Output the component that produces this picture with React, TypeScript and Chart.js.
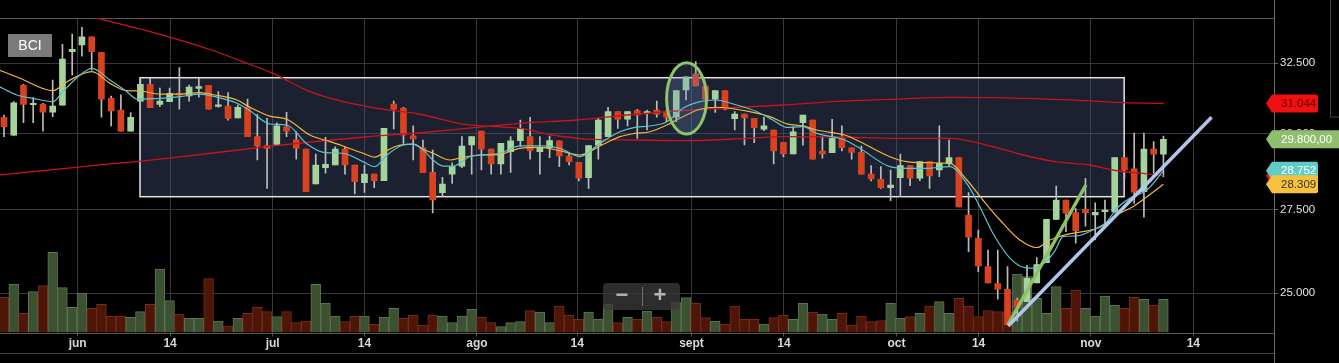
import React, { useEffect, useRef } from "react";
import { Chart, registerables } from "chart.js";

Chart.register(...registerables);

const FONT = "'Liberation Sans', Arial, sans-serif";

// Daily candles (BCI), oldest first
const opens = [
  30560, 29940, 31690, 31000, 31015, 30740, 30980, 32930, 33190, 33500,
  32910, 31225, 30810, 30080, 31130, 31730, 31015, 31110, 31410, 31310,
  31580, 31690, 30940, 30955, 30540, 30910, 29890, 29585, 29630, 30230,
  29780, 29470, 28320, 28850, 28940, 29470, 28940, 28360, 28640, 28425,
  31025, 30875, 29920, 29510, 28700, 28040, 28640, 28905, 29608, 30080,
  29470, 28973, 29385, 29755, 29890, 29385, 29515, 29745, 29240, 29030,
  28525, 29608, 29890, 30755, 30490, 30790, 30700, 30814, 30755, 30560,
  31525, 32110, 31670, 31200, 31500, 30510, 30670, 30520, 30150, 30118,
  29700, 29305, 30370, 30464, 29405, 29350, 29835, 29515, 29360, 28640,
  28470, 28200, 28525, 28920, 28505, 29050, 28775, 28995, 29185, 27335,
  26620, 25770, 25280, 25115, 24809, 24760, 25300, 25885, 27200, 27807,
  27410, 27510, 27335, 27440, 27435, 29190, 28810, 28070, 29470, 29300,
];
const highs = [
  30640, 31110, 31730, 31250, 31050, 31880, 33210, 33605, 33860, 33500,
  32910, 31310, 31350, 30720, 31920, 31950, 31590, 31590, 32340, 31700,
  31950, 31690, 31465, 31430, 30990, 31200, 30660, 30520, 30370, 30730,
  30060, 29470, 29305, 29870, 29550, 29550, 28940, 28940, 28640, 30175,
  31130, 30910, 30260, 29777, 29440, 28535, 29015, 29890, 29890, 30080,
  29470, 29665, 29890, 30464, 30560, 29890, 29910, 29745, 29350, 29030,
  29585, 30520, 30910, 30755, 30755, 30840, 30814, 31130, 30814, 31500,
  32005, 32560, 31670, 31500, 31500, 30755, 30670, 30520, 30560, 30118,
  29700, 30230, 30638, 30464, 29890, 30490, 30260, 29515, 29575, 28920,
  28885, 28775, 29305, 28920, 29050, 29050, 30260, 29777, 29185, 28040,
  26871, 26265, 26265, 25770, 24866, 25810, 26040, 27200, 28255, 27807,
  27540, 28500, 27720, 27807, 29190, 29190, 30010, 30010, 29720, 29910,
];
const lows = [
  29890, 29930, 30370, 30370, 30080, 30580, 30980, 32070, 32770, 32250,
  30560, 30260, 30080, 30080, 31130, 30900, 30930, 31110, 30840, 31130,
  31265, 30840, 30910, 30460, 30540, 29890, 29105, 28180, 29630, 29890,
  29130, 28070, 28320, 28670, 28940, 28640, 28000, 28050, 28200, 28425,
  30160, 29665, 29105, 28690, 27400, 27910, 28340, 28850, 28640, 28775,
  28640, 28640, 28700, 29550, 29130, 28640, 29180, 28885, 28940, 28415,
  28180, 29130, 29890, 30175, 30260, 29835, 30118, 30560, 30405, 30405,
  31167, 31670, 31190, 30730, 30814, 30118, 29608, 29685, 30095, 28973,
  29215, 29305, 29598, 29130, 29165, 29350, 29405, 29130, 28640, 28415,
  28180, 27785, 27910, 28265, 28425, 28180, 28560, 28905, 27590, 26215,
  25625, 25300, 24830, 24120, 24220, 24760, 25300, 25885, 27200, 26820,
  26470, 26990, 26566, 26970, 27400, 28500, 27700, 27265, 28670, 28560,
];
const closes = [
  30230, 31070, 31010, 31020, 30740, 30950, 32660, 33020, 33500, 32930,
  31200, 30780, 30080, 30560, 31730, 30900, 31130, 31410, 31350, 31630,
  31650, 30840, 30960, 30520, 30910, 29890, 29575, 29495, 30260, 30080,
  29500, 28070, 28940, 28960, 29470, 28940, 28395, 28640, 28425, 30175,
  30840, 29950, 29810, 28690, 27810, 28320, 28885, 29575, 29890, 29470,
  28973, 29665, 29745, 30175, 29415, 29515, 29755, 29240, 29050, 28505,
  29585, 30464, 30755, 30490, 30755, 30640, 30755, 30670, 30560, 31500,
  32005, 31670, 31190, 31500, 30840, 30670, 30540, 30200, 30260, 29405,
  29305, 30060, 30638, 29130, 29305, 29835, 29515, 29360, 28640, 28480,
  28200, 28287, 28920, 28505, 29050, 28580, 28995, 29185, 27590, 26650,
  25790, 25300, 25115, 24120, 24610, 25430, 25830, 27200, 27807, 27390,
  26850, 27410, 27420, 27460, 29190, 28775, 28060, 29470, 29300, 29800,
];
// Traded volume (thousands)
const volumes = [
  352, 482, 192, 408, 468, 802, 448, 252, 392, 242,
  282, 165, 165, 152, 208, 282, 635, 318, 185, 142,
  142, 538, 115, 65, 142, 192, 252, 208, 158, 208,
  98, 115, 482, 292, 165, 108, 165, 165, 85, 152,
  242, 142, 175, 75, 175, 165, 98, 165, 232, 152,
  98, 58, 98, 108, 218, 205, 98, 265, 175, 132,
  205, 132, 282, 98, 152, 132, 215, 152, 108, 298,
  348, 292, 148, 115, 85, 265, 132, 132, 85, 148,
  175, 132, 292, 205, 185, 132, 192, 75, 165, 108,
  118, 292, 142, 158, 192, 265, 308, 192, 342, 265,
  158, 218, 208, 205, 585, 558, 342, 192, 458, 242,
  425, 242, 165, 365, 275, 242, 352, 332, 275, 332,
];

// Date ticks (position in trading-day slots) and their labels
const xTickPos = [7.56, 17.05, 27.58, 37.0, 48.54, 58.84, 70.56, 80.05, 91.6, 100.03, 111.55, 122.07];
const xTickLabels = ["jun", "14", "jul", "14", "ago", "14", "sept", "14", "oct", "14", "nov", "14"];
const yTickValues = [25000, 27500, 30000, 32500];

// Moving averages read as [slot, price]
const maLong = [
  [-0.5, 28611], [7.6, 28873], [17.0, 29170], [27.6, 29575], [37.0, 29880], [42.7, 30025],
  [45.8, 30118], [53.0, 30350], [58.8, 30464], [64.8, 30665], [70.6, 30814], [79.9, 30990],
  [86.0, 31130], [91.6, 31200], [97.1, 31260], [102.9, 31245], [107.9, 31190], [111.5, 31140],
  [114.2, 31080], [119, 31044],
];
const maMid = [
  [-0.5, 35210], [9.54, 34220], [17.0, 33490], [21.3, 32997], [24.5, 32560], [27.6, 32130],
  [31.4, 31465], [34.8, 31110], [38.3, 30875], [42.7, 30665], [47.1, 30325], [53.0, 30175],
  [56.3, 29947], [59.8, 29810], [64.8, 29777], [70.6, 29755], [76.3, 29835], [79.9, 29890],
  [86.0, 29880], [91.6, 29835], [97.1, 29835], [101.5, 29550], [104.6, 29272], [107.9, 29050],
  [111.5, 28940], [113.8, 28775], [117.6, 28640], [119, 28590],
];
const maYellow = [
  [-0.5, 32253], [1.64, 31950], [5.03, 31500], [6.47, 31825], [9.03, 32190], [10.88, 31765],
  [12.62, 31500], [13.96, 31490], [16.01, 31380], [18.06, 31380], [20.11, 31430], [21.65, 31346],
  [23.91, 31167], [25.25, 30910], [27.3, 30600], [29.04, 30490], [31.4, 29947], [33.46, 29720],
  [34.79, 29575], [36.84, 29330], [38.07, 29200], [39.1, 29385], [40.33, 29575], [41.97, 29640],
  [43.2, 29440], [44.03, 29330], [45.77, 29105], [47.1, 29195], [48.85, 29272], [50.9, 29295],
  [52.96, 29495], [55.0, 29530], [57.06, 29415], [59.11, 29272], [61.16, 29575], [63.22, 29890],
  [64.76, 30000], [66.3, 30060], [68.04, 30291], [69.68, 30580], [71.43, 30840], [73.17, 30910],
  [74.5, 30875], [76.56, 30755], [78.61, 30580], [80.36, 30330], [82.0, 30260], [83.43, 30118],
  [86.3, 29947], [87.85, 29720], [90.93, 29215], [92.67, 29050], [94.72, 29015], [97.08, 28995],
  [98.83, 28449], [100.47, 27807], [102.22, 27180], [104.27, 26566], [106.01, 26340], [107.35, 26566],
  [109.09, 26740], [110.73, 26820], [112.48, 26955], [114.22, 27335], [115.86, 27595], [117.3, 27910],
  [119, 28309],
];
const maBlue = [
  [-0.5, 31650], [1.33, 31346], [2.98, 31228], [5.03, 31110], [5.95, 31430], [7.8, 32069],
  [9.03, 32315], [10.88, 31887], [12.62, 31465], [13.65, 31200], [16.01, 31228], [18.06, 31285],
  [20.11, 31380], [21.65, 31285], [23.91, 31050], [25.25, 30790], [27.3, 30325], [29.04, 30291],
  [31.1, 29640], [32.94, 29350], [34.79, 29330], [36.84, 29050], [38.07, 28885], [39.31, 29272],
  [40.95, 29608], [41.97, 29640], [43.2, 29385], [44.03, 29105], [45.05, 28905], [46.08, 28905],
  [47.82, 29215], [50.9, 29330], [52.96, 29575], [55.0, 29575], [57.06, 29495], [59.11, 29215],
  [61.16, 29665], [63.22, 30060], [64.76, 30210], [66.3, 30256], [68.04, 30405], [69.68, 30875],
  [71.43, 31110], [72.97, 31167], [75.22, 30990], [77.28, 30755], [78.92, 30464], [80.36, 30210],
  [82.0, 30232], [83.43, 30004], [86.3, 29777], [87.85, 29495], [90.93, 28885], [92.67, 28830],
  [94.72, 28830], [97.08, 28885], [98.83, 28330], [100.16, 27595], [101.5, 26770], [103.24, 26020],
  [104.27, 25790], [105.6, 25725], [107.0, 25930], [107.9, 26260], [108.68, 26670], [110.12, 26690],
  [111.76, 26871], [113.2, 27130], [114.22, 27545], [115.56, 27860], [117.3, 28126], [119, 28752],
];

// Drawn annotations (slot, price)
const rangeBoxSlots = [13.96, 114.97];
const rangeBoxPrices = [31970, 27912];
const ellipseSlots = [68.01, 72.11];
const ellipsePrices = [32520, 29980];
const trendGreen = [[103.04, 24112], [111.04, 28287]];
const trendBlue = [[103.07, 24085], [123.94, 30560]];

const fmtThousands = (v: number) =>
  Math.round(v).toString().replace(/\B(?=(\d{3})+(?!\d))/g, ".");

export default function App() {
  const ref = useRef<HTMLCanvasElement>(null);

  useEffect(() => {
    document.body.style.margin = "0";
    document.body.style.background = "#000";
    const canvas = ref.current as HTMLCanvasElement;

    const up = closes.map((c, i) => c >= opens[i]);
    const volUp = closes.map((c, i) => (i === 0 ? c >= opens[0] : c >= closes[i - 1]));
    const pts = (arr: number[][]) => arr.map(([x, y]) => ({ x, y }));

    const GREEN = "#a4d39c";
    const RED = "#d9411f";

    const drawTag = (ctx: any, right: number, yc: number, fill: string, txtColor: string, text: string, bodyRight: number) => {
      const h = 18;
      const tip = right - 8;
      const body = right - 2;
      ctx.save();
      ctx.beginPath();
      ctx.moveTo(tip, yc);
      ctx.lineTo(body, yc - h / 2);
      ctx.lineTo(bodyRight - 2, yc - h / 2);
      ctx.quadraticCurveTo(bodyRight, yc - h / 2, bodyRight, yc - h / 2 + 2);
      ctx.lineTo(bodyRight, yc + h / 2 - 2);
      ctx.quadraticCurveTo(bodyRight, yc + h / 2, bodyRight - 2, yc + h / 2);
      ctx.lineTo(body, yc + h / 2);
      ctx.closePath();
      ctx.fillStyle = fill;
      ctx.fill();
      if (text) {
        ctx.fillStyle = txtColor;
        ctx.font = `11.5px ${FONT}`;
        ctx.textAlign = "left";
        ctx.textBaseline = "middle";
        ctx.fillText(text, right + 7, yc + 0.5);
      }
      ctx.restore();
    };

    const overlay = {
      id: "overlay",
      beforeDraw(chart: any) {
        const ctx = chart.ctx;
        ctx.save();
        ctx.fillStyle = "#000";
        ctx.fillRect(0, 0, chart.width, chart.height);
        ctx.restore();
      },
      beforeDatasetsDraw(chart: any) {
        const { ctx, chartArea, scales } = chart;
        const x = scales.x;
        const y = scales.y;
        ctx.save();
        // frame lines
        ctx.strokeStyle = "#585858";
        ctx.lineWidth = 1;
        ctx.beginPath();
        ctx.moveTo(0, Math.round(chartArea.top) + 0.5);
        ctx.lineTo(chartArea.right, Math.round(chartArea.top) + 0.5);
        ctx.moveTo(0, Math.round(chartArea.bottom) + 0.5);
        ctx.lineTo(chartArea.right, Math.round(chartArea.bottom) + 0.5);
        ctx.stroke();
        // consolidation range box
        const x0 = x.getPixelForValue(rangeBoxSlots[0]);
        const x1 = x.getPixelForValue(rangeBoxSlots[1]);
        const y0 = y.getPixelForValue(rangeBoxPrices[0]);
        const y1 = y.getPixelForValue(rangeBoxPrices[1]);
        ctx.fillStyle = "rgba(75,92,133,0.36)";
        ctx.fillRect(x0, y0, x1 - x0, y1 - y0);
        ctx.strokeStyle = "#e4e4e4";
        ctx.lineWidth = 1.5;
        ctx.strokeRect(x0, y0, x1 - x0, y1 - y0);
        ctx.restore();
      },
      afterDatasetsDraw(chart: any) {
        const { ctx, scales } = chart;
        const x = scales.x;
        const y = scales.y;
        const ex0 = x.getPixelForValue(ellipseSlots[0]);
        const ex1 = x.getPixelForValue(ellipseSlots[1]);
        const ey0 = y.getPixelForValue(ellipsePrices[0]);
        const ey1 = y.getPixelForValue(ellipsePrices[1]);
        ctx.save();
        ctx.beginPath();
        ctx.ellipse((ex0 + ex1) / 2, (ey0 + ey1) / 2, (ex1 - ex0) / 2, (ey1 - ey0) / 2, 0, 0, Math.PI * 2);
        ctx.fillStyle = "rgba(110,140,200,0.25)";
        ctx.fill();
        ctx.strokeStyle = "#8fc46d";
        ctx.lineWidth = 3;
        ctx.stroke();
        ctx.restore();
      },
      afterDraw(chart: any) {
        const { ctx, chartArea, scales } = chart;
        const y = scales.y;
        const right = chartArea.right;
        ctx.save();
        // right border and lower panel separator
        ctx.strokeStyle = "#6a6a6a";
        ctx.lineWidth = 1;
        ctx.beginPath();
        ctx.moveTo(Math.round(right) + 0.5, 0);
        ctx.lineTo(Math.round(right) + 0.5, chart.height);
        ctx.stroke();
        ctx.strokeStyle = "#444";
        ctx.beginPath();
        ctx.moveTo(0, 353.5);
        ctx.lineTo(right, 353.5);
        ctx.moveTo(1330.5, 0);
        ctx.lineTo(1330.5, 117);
        ctx.lineTo(chart.width, 117);
        ctx.stroke();

        // ticker badge
        ctx.fillStyle = "#7b7b7b";
        ctx.fillRect(8, 34, 44, 23);
        ctx.fillStyle = "#fff";
        ctx.font = `14px ${FONT}`;
        ctx.textAlign = "center";
        ctx.textBaseline = "middle";
        ctx.fillText("BCI", 30, 46);

        // zoom control
        ctx.beginPath();
        (ctx as any).roundRect(603, 283, 77, 27, 4);
        ctx.fillStyle = "rgba(58,58,58,0.78)";
        ctx.fill();
        ctx.strokeStyle = "#707070";
        ctx.beginPath();
        ctx.moveTo(642.5, 287);
        ctx.lineTo(642.5, 306);
        ctx.stroke();
        ctx.fillStyle = "#b4b4b4";
        ctx.font = `bold 22px ${FONT}`;
        ctx.fillText("\u2212", 622, 296);
        ctx.fillText("+", 660, 296);
        ctx.restore();

        // last value tags
        const lastMid = maMid[maMid.length - 1][1];
        const lastLong = maLong[maLong.length - 1][1];
        const lastYellow = maYellow[maYellow.length - 1][1];
        const lastBlue = maBlue[maBlue.length - 1][1];
        const lastClose = closes[closes.length - 1];
        drawTag(ctx, right, y.getPixelForValue(lastLong), "#f01010", "#5a0000", fmtThousands(lastLong), 1318);
        drawTag(ctx, right, y.getPixelForValue(lastMid), "#e01515", "#5a0000", "", 1318);
        drawTag(ctx, right, y.getPixelForValue(lastClose), "#8fbf6e", "#ffffff", fmtThousands(lastClose) + ",00", 1350);
        drawTag(ctx, right, y.getPixelForValue(lastBlue), "#5ecdc6", "#ffffff", fmtThousands(lastBlue), 1318);
        drawTag(ctx, right, y.getPixelForValue(lastYellow), "#f6c23e", "#333333", fmtThousands(lastYellow), 1318);
      },
    };

    const chart = new Chart(canvas, {
      type: "bar",
      data: {
        datasets: [
          {
            type: "bar",
            label: "Volumen",
            yAxisID: "yVol",
            data: volumes.map((v, i) => ({ x: i, y: v })),
            backgroundColor: volUp.map((u) => (u ? "#3c5132" : "#4e1609")),
            borderColor: volUp.map((u) => (u ? "#5b7650" : "#7a2c1b")),
            borderWidth: 1,
            barThickness: 9.74,
            grouped: false,
            order: 10,
          } as any,
          {
            type: "bar",
            label: "Mecha",
            yAxisID: "y",
            data: lows.map((l, i) => ({ x: i, y: [l, highs[i]] })),
            backgroundColor: "#bcbcbc",
            barThickness: 1,
            grouped: false,
            order: 9,
          } as any,
          {
            type: "bar",
            label: "Cuerpo",
            yAxisID: "y",
            data: opens.map((o, i) => ({ x: i, y: [o, closes[i]] })),
            backgroundColor: up.map((u) => (u ? GREEN : RED)),
            barThickness: 6,
            minBarLength: 1.5,
            grouped: false,
            order: 8,
          } as any,
          {
            type: "line",
            label: "MM200",
            yAxisID: "y",
            data: pts(maLong),
            borderColor: "#c8141e",
            borderWidth: 1.3,
            pointRadius: 0,
            cubicInterpolationMode: "monotone",
            order: 4,
          } as any,
          {
            type: "line",
            label: "MM50",
            yAxisID: "y",
            data: pts(maMid),
            borderColor: "#c8141e",
            borderWidth: 1.3,
            pointRadius: 0,
            cubicInterpolationMode: "monotone",
            order: 4,
          } as any,
          {
            type: "line",
            label: "MM20",
            yAxisID: "y",
            data: pts(maYellow),
            borderColor: "#f0b93a",
            borderWidth: 1.2,
            pointRadius: 0,
            cubicInterpolationMode: "monotone",
            order: 3,
          } as any,
          {
            type: "line",
            label: "MM10",
            yAxisID: "y",
            data: pts(maBlue),
            borderColor: "#5ec3cf",
            borderWidth: 1.2,
            pointRadius: 0,
            cubicInterpolationMode: "monotone",
            order: 2,
          } as any,
          {
            type: "line",
            label: "Tendencia corta",
            yAxisID: "y",
            data: pts(trendGreen),
            borderColor: "#8fc06a",
            borderWidth: 3.5,
            pointRadius: 0,
            order: 1,
          } as any,
          {
            type: "line",
            label: "Tendencia",
            yAxisID: "y",
            data: pts(trendBlue),
            borderColor: "#b2c6ec",
            borderWidth: 3.5,
            pointRadius: 0,
            order: 0,
          } as any,
        ],
      },
      options: {
        responsive: false,
        animation: false,
        events: [],
        layout: { padding: { top: 18, left: 0, right: 0, bottom: 0 } },
        plugins: { legend: { display: false }, tooltip: { enabled: false } },
        scales: {
          x: {
            type: "linear",
            min: -0.41,
            max: 130.35,
            offset: false,
            afterBuildTicks: (s: any) => {
              s.ticks = xTickPos.map((v) => ({ value: v }));
            },
            afterFit: (s: any) => {
              s.height = 30.5;
            },
            ticks: {
              autoSkip: false,
              maxRotation: 0,
              color: "#d8d8d8",
              padding: 0,
              font: { family: FONT, size: 12, weight: "bold" },
              callback: (_v: any, i: number) => xTickLabels[i],
            },
            grid: { color: "#383838", offset: false, drawTicks: true, tickLength: 4, tickColor: "#555" },
            border: { display: false },
          },
          y: {
            type: "logarithmic",
            position: "right",
            min: 23906,
            max: 34224,
            afterBuildTicks: (s: any) => {
              s.ticks = yTickValues.map((v) => ({ value: v }));
            },
            afterFit: (s: any) => {
              s.width = 65;
            },
            ticks: {
              color: "#e2e2e2",
              padding: 2,
              font: { family: FONT, size: 11.5 },
              callback: (v: any) => fmtThousands(Number(v)),
            },
            grid: { color: "#383838", drawTicks: true, tickLength: 4, tickColor: "#666" },
            border: { display: false },
          },
          yVol: {
            type: "linear",
            display: false,
            min: 0,
            max: 3145,
          },
        },
      } as any,
      plugins: [overlay],
    });

    return () => chart.destroy();
  }, []);

  return (
    <div style={{ width: 1339, height: 363, background: "#000" }}>
      <canvas ref={ref} width={1339} height={363} style={{ display: "block" }} />
    </div>
  );
}
